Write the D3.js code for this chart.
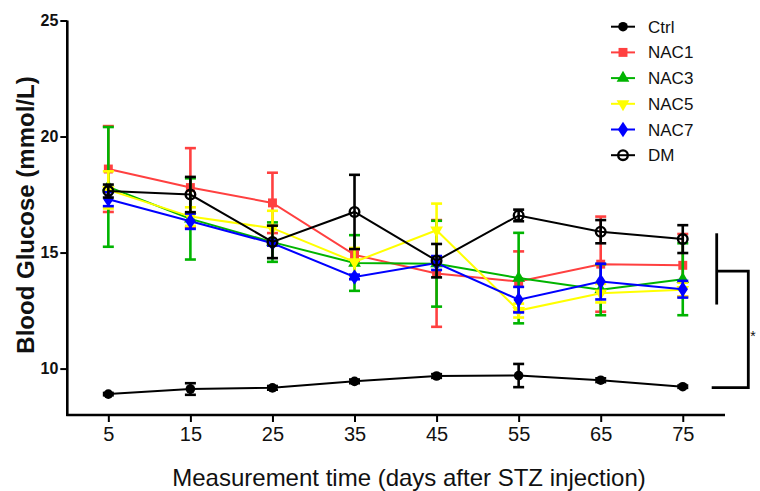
<!DOCTYPE html>
<html>
<head>
<meta charset="utf-8">
<script src="https://cdn.jsdelivr.net/npm/d3@7"></script>
<style>
  body { margin: 0; background: #fff; }
  svg { display: block; font-family: Arial, "Liberation Sans", sans-serif; }
</style>
</head>
<body>
<script>
// values
const days = [5, 15, 25, 35, 45, 55, 65, 75];
const yTicks = [10, 15, 20, 25];

const ctrl    = [8.9, 9.12, 9.17, 9.45, 9.68, 9.7, 9.5, 9.22];
const ctrlErr = [0.05, 0.25, 0.08, 0.08, 0.08, 0.5, 0.08, 0.05];
const nac1    = [18.6, 17.8, 17.14, 14.9, 14.1, 13.75, 14.5, 14.45];
const nac1Err = [1.85, 1.7, 1.3, 0.25, 2.3, 1.3, 2.05, 1.35];
const nac3    = [17.83, 16.45, 15.45, 14.55, 14.52, 13.9, 13.4, 13.85];
const nac3Err = [2.58, 1.75, 0.85, 1.2, 1.85, 1.95, 1.1, 1.55];
const nac5    = [17.7, 16.55, 16.05, 14.6, 15.96, 12.5, 13.25, 13.4];
const nac5Err = [0.8, 0.4, 0.75, 0.6, 1.15, 0.3, 0.4, 0.3];
const nac7    = [17.3, 16.35, 15.4, 13.95, 14.55, 12.97, 13.75, 13.42];
const nac7Err = [0.3, 0.33, 0.1, 0.1, 0.3, 0.55, 0.77, 0.36];
const dm      = [17.65, 17.5, 15.46, 16.75, 14.65, 16.6, 15.9, 15.58];
const dmErr   = [0.28, 0.76, 0.7, 1.6, 0.72, 0.25, 0.5, 0.6];

const groups = [
  {name: 'Ctrl', color: '#000000', sym: 'dot',     vals: ctrl, err: ctrlErr},
  {name: 'NAC1', color: '#ff4040', sym: 'square',  vals: nac1, err: nac1Err},
  {name: 'NAC3', color: '#00b400', sym: 'tri',     vals: nac3, err: nac3Err},
  {name: 'NAC5', color: '#ffff00', sym: 'triDown', vals: nac5, err: nac5Err},
  {name: 'NAC7', color: '#0000ff', sym: 'diamond', vals: nac7, err: nac7Err},
  {name: 'DM',   color: '#000000', sym: 'open',    vals: dm,   err: dmErr}
];
// drawing order (last on top)
const drawOrder = ['NAC1', 'NAC3', 'NAC5', 'NAC7', 'DM', 'Ctrl'];

const width = 760, height = 491;
const svg = d3.select('body').append('svg')
              .attr('width', width)
              .attr('height', height);

const x = d3.scaleLinear().domain([0, 80]).range([67.3, 723.8]);
const y = d3.scaleLinear().domain([8, 25]).range([415, 20.5]);

// axes
const xAxis = svg.append('g')
   .attr('transform', `translate(0,${y(8)})`)
   .call(d3.axisBottom(x).tickValues(days).tickSize(7).tickPadding(5).tickFormat(d3.format('d')));
xAxis.select('.domain').attr('d', `M${x(0) - 1},0H725`);
xAxis.selectAll('line').attr('stroke-width', 2);
xAxis.selectAll('text').attr('font-size', 20).attr('fill', '#111')
     .attr('font-family', 'Arial, "Liberation Sans", sans-serif');

const yAxis = svg.append('g')
   .attr('transform', `translate(${x(0)},0)`)
   .call(d3.axisLeft(y).tickValues(yTicks).tickSize(7).tickPadding(2).tickFormat(d3.format('d')));
yAxis.select('.domain').attr('d', `M0,${y(25)}V${y(8) + 1}`);
yAxis.selectAll('line').attr('stroke-width', 2);
yAxis.selectAll('text').attr('font-size', 16).attr('font-weight', 'bold').attr('fill', '#111')
     .attr('font-family', 'Arial, "Liberation Sans", sans-serif');
svg.selectAll('.domain').attr('stroke-width', 2.6).attr('stroke', '#000');

// axis titles
svg.append('text')
   .attr('x', 409).attr('y', 486)
   .attr('text-anchor', 'middle')
   .attr('font-size', 24)
   .attr('fill', '#111')
   .text('Measurement time (days after STZ injection)');
svg.append('text')
   .attr('transform', `translate(34,${215}) rotate(-90)`)
   .attr('text-anchor', 'middle')
   .attr('font-size', 24)
   .attr('font-weight', 'bold')
   .attr('fill', '#111')
   .text('Blood Glucose (mmol/L)');

function drawMarker(g, sym, color, cx, cy) {
  if (sym === 'dot') {
    g.append('circle').attr('cx', cx).attr('cy', cy).attr('r', 4.8).attr('fill', color);
  } else if (sym === 'open') {
    g.append('circle').attr('cx', cx).attr('cy', cy).attr('r', 4.8)
     .attr('fill', 'none').attr('stroke', color).attr('stroke-width', 2.4);
  } else {
    const type = {square: d3.symbolSquare, tri: d3.symbolTriangle, triDown: d3.symbolTriangle, diamond: d3.symbolDiamond}[sym];
    const size = {square: 80, tri: 70, triDown: 70, diamond: 70}[sym];
    g.append('path')
     .attr('d', d3.symbol().type(type).size(size)())
     .attr('transform', `translate(${cx},${cy})` + (sym === 'triDown' ? ' rotate(180)' : '') + (sym === 'diamond' ? ' scale(1.15,1)' : ''))
     .attr('fill', color);
  }
}

const line = d3.line().x((d, i) => x(days[i])).y(d => y(d));

drawOrder.forEach(name => {
  const grp = groups.find(g => g.name === name);
  const g = svg.append('g');
  g.append('path')
   .attr('d', line(grp.vals))
   .attr('fill', 'none')
   .attr('stroke', grp.color)
   .attr('stroke-width', 2);
  grp.vals.forEach((v, i) => {
    const cx = x(days[i]);
    const e = grp.err[i];
    const top = y(v + e), bot = y(v - e);
    g.append('line').attr('x1', cx).attr('x2', cx).attr('y1', top).attr('y2', bot)
     .attr('stroke', grp.color).attr('stroke-width', 2.6);
    [top, bot].forEach(cy => {
      g.append('line').attr('x1', cx - 5.5).attr('x2', cx + 5.5).attr('y1', cy).attr('y2', cy)
       .attr('stroke', grp.color).attr('stroke-width', 2.6);
    });
    drawMarker(g, grp.sym, grp.color, cx, y(v));
  });
});

// legend
const legend = svg.append('g');
groups.forEach((grp, i) => {
  const ly = 26.7 + i * 25.7;
  legend.append('line').attr('x1', 611).attr('x2', 635).attr('y1', ly).attr('y2', ly)
        .attr('stroke', grp.color).attr('stroke-width', 2);
  drawMarker(legend, grp.sym, grp.color, 623, ly);
  legend.append('text')
        .attr('x', 648).attr('y', ly + 6)
        .attr('font-size', 17)
        .attr('fill', '#111')
        .text(grp.name);
});

// significance bracket
const br = svg.append('g').attr('stroke', '#000').attr('stroke-width', 2.8).attr('fill', 'none');
br.append('path').attr('d', `M716.7,${y(15.83)}V${y(12.76)}`);
br.append('path').attr('d', `M716.7,${y(14.2)}H748.3V${y(9.18)}H711.7`);
svg.append('text')
   .attr('x', 753).attr('y', y(11.2))
   .attr('text-anchor', 'middle')
   .attr('font-size', 14)
   .attr('fill', '#111')
   .text('*');
</script>
</body>
</html>
